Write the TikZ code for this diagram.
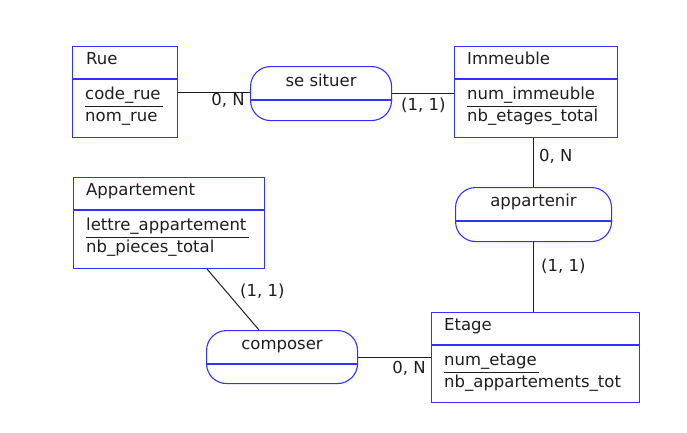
\documentclass[tikz,border=0pt]{standalone}
\usepackage{fontspec}
\setmainfont{DejaVu Sans}
\definecolor{bleu}{RGB}{50,50,255}
\definecolor{encre}{RGB}{30,30,30}
\begin{document}
\begin{tikzpicture}[x=1pt,y=-1pt,
        entite/.style = {draw=bleu, line width=1.1pt, anchor=north west, inner sep=0pt},
        relation/.style = {draw=bleu, line width=1.1pt, rounded corners=20pt, anchor=north west, inner sep=0pt},
        texte/.style = {text=encre, inner sep=0pt, font=\fontsize{16.5}{20}\selectfont},
        lien/.style = {draw=encre, line width=1pt}
    ]
            \useasboundingbox (0,0) rectangle (687,432);
            % entites
            \node[entite, minimum width=105pt, minimum height=91pt] (rue) at (72,46) {};
            \node[entite, minimum width=163pt, minimum height=91pt] (immeuble) at (454,46) {};
            \node[entite, minimum width=191pt, minimum height=91pt] (appart) at (73,177) {};
            \node[entite, minimum width=208pt, minimum height=90pt] (etage) at (431,312) {};
            \foreach \e in {rue,immeuble,appart,etage}
                \draw[bleu, line width=1.1pt] ([yshift=-33pt]\e.north west) -- ([yshift=-33pt]\e.north east);
            \node[texte, anchor=base west] (rue-titre) at ([shift={(14pt,-18pt)}]rue.north west) {Rue};
            \node[texte, anchor=base west] (rue-code) at ([shift={(13pt,-53pt)}]rue.north west) {code\_rue};
            \node[texte, anchor=base west] (rue-nom) at ([shift={(13pt,-75pt)}]rue.north west) {nom\_rue};
            \node[texte, anchor=base west] (imm-titre) at ([shift={(13pt,-18pt)}]immeuble.north west) {Immeuble};
            \node[texte, anchor=base west] (imm-num) at ([shift={(13pt,-53pt)}]immeuble.north west) {num\_immeuble};
            \node[texte, anchor=base west] (imm-nb) at ([shift={(13pt,-75pt)}]immeuble.north west) {nb\_etages\_total};
            \node[texte, anchor=base west] (app-titre) at ([shift={(13pt,-18pt)}]appart.north west) {Appartement};
            \node[texte, anchor=base west] (app-lettre) at ([shift={(13pt,-53pt)}]appart.north west) {lettre\_appartement};
            \node[texte, anchor=base west] (app-nb) at ([shift={(13pt,-75pt)}]appart.north west) {nb\_pieces\_total};
            \node[texte, anchor=base west] (eta-titre) at ([shift={(13pt,-18pt)}]etage.north west) {Etage};
            \node[texte, anchor=base west] (eta-num) at ([shift={(13pt,-53pt)}]etage.north west) {num\_etage};
            \node[texte, anchor=base west] (eta-nb) at ([shift={(13pt,-75pt)}]etage.north west) {nb\_appartements\_tot};
            % identifiants soulignes
            \foreach \a in {rue-code,imm-num,app-lettre,eta-num}
                \draw[encre, line width=1pt] ([shift={(0pt,-7pt)}]\a.base west) -- ([shift={(2pt,-7pt)}]\a.base east);
            % associations
            \node[relation, minimum width=141pt, minimum height=54pt] (situer) at (250,66) {};
            \node[relation, minimum width=156pt, minimum height=54pt] (appartenir) at (455,187) {};
            \node[relation, minimum width=151pt, minimum height=53pt] (composer) at (206,330) {};
            \foreach \r in {situer,appartenir,composer}
                \draw[bleu, line width=1.1pt] ([yshift=-34pt]\r.north west) -- ([yshift=-34pt]\r.north east);
            \node[texte, anchor=base] (situer-nom) at ([yshift=-20pt]situer.north) {se situer};
            \node[texte, anchor=base] (appartenir-nom) at ([yshift=-19pt]appartenir.north) {appartenir};
            \node[texte, anchor=base] (composer-nom) at ([yshift=-19pt]composer.north) {composer};
            % liens
            \draw[lien] (rue.east) -- (rue.east -| situer.west);
            \draw[lien] (situer.east) -- (situer.east -| immeuble.west);
            \draw[lien] (appartenir.north) -- (appartenir.north |- immeuble.south);
            \draw[lien] (appartenir.south) -- (appartenir.south |- etage.north);
            \draw[lien] (composer.east) -- (composer.east -| etage.west);
            \draw[lien] ([xshift=38pt]appart.south) -- ([xshift=-23pt]composer.north);
            % cardinalites
            \node[texte, anchor=base east] (card-rue) at (245,105) {0, N};
            \node[texte, anchor=base west] (card-imm) at (401,110) {(1, 1)};
            \node[texte, anchor=base west] (card-imm2) at (539,161) {0, N};
            \node[texte, anchor=base west] (card-eta) at (541,271) {(1, 1)};
            \node[texte, anchor=base west] (card-app) at (240,296) {(1, 1)};
            \node[texte, anchor=base east] (card-eta2) at (426,373) {0, N};
        \end{tikzpicture}
\end{document}
